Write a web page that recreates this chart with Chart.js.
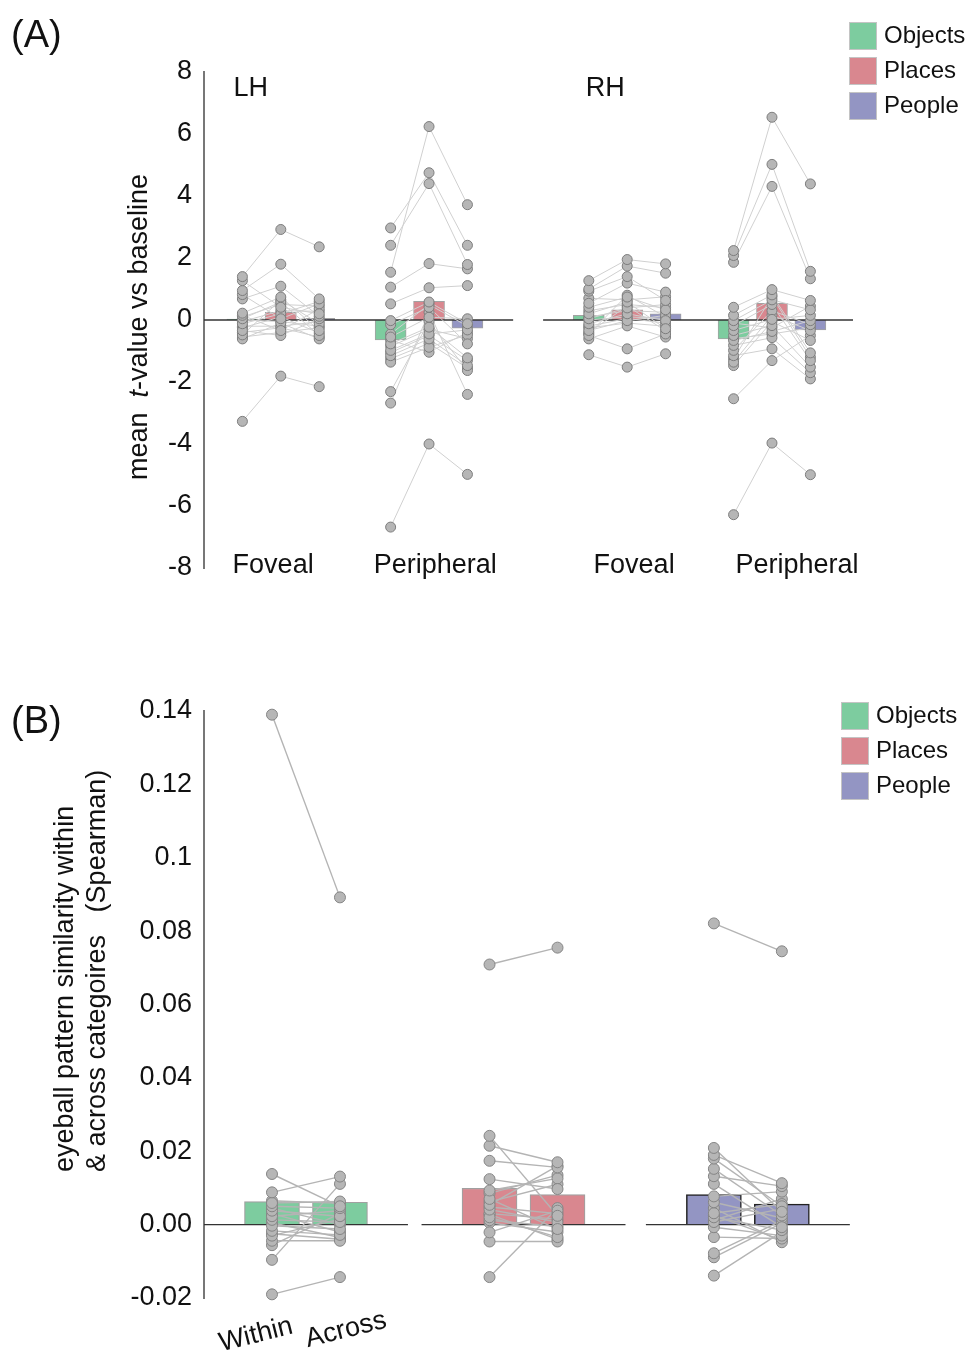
<!DOCTYPE html>
<html><head><meta charset="utf-8">
<script src="https://cdn.jsdelivr.net/npm/chart.js@4.4.1/dist/chart.umd.min.js"></script>
<style>
html,body{margin:0;padding:0;background:#fff;}
#wrap{position:relative;width:968px;height:1356px;overflow:hidden;}
#ca{position:absolute;left:0;top:0;width:968px;height:620px;}
#cb{position:absolute;left:0;top:620px;width:968px;height:736px;}
</style></head><body>
<div id="wrap"><canvas id="ca" width="968" height="620"></canvas><canvas id="cb" width="968" height="736"></canvas></div>
<script>
// ---------- DATA ----------
const conditions = ['Objects', 'Places', 'People'];
const hemispheres = ['LH', 'RH'];
const regionsA = ['Foveal', 'Peripheral', 'Foveal', 'Peripheral'];
const yTicksA = ['-8', '-6', '-4', '-2', '0', '2', '4', '6', '8'];

// bar heights (mean t-value) per group: LH-Foveal, LH-Peripheral, RH-Foveal, RH-Peripheral
const meanObjectsA = [0.03, -0.64, 0.15, -0.61];
const meanPlacesA  = [0.25, 0.60, 0.33, 0.54];
const meanPeopleA  = [0.05, -0.26, 0.20, -0.32];

// individual subjects (same index = same subject within a group)
const lhFovealObjects = [1.40, 1.27, 0.95, 0.82, 0.68, 0.22, 0.15, 0.04, -0.12, -0.34, -0.48, -0.61, -3.27, 0.10, 0.00, -0.05, -0.20, -0.25, -0.40, -0.55];
const lhFovealPlaces  = [2.92, 0.41, 1.80, 0.04, 1.09, 0.74, -0.34, 0.58, 0.20, -0.50, 0.65, -0.10, -1.81, 0.50, -0.05, 0.30, -0.20, 0.10, -0.25, -0.40];
const lhFovealPeople  = [2.36, 0.20, 0.68, 0.52, 0.12, -0.34, 0.36, -0.50, 0.60, 0.04, -0.12, -0.61, -2.15, 0.45, -0.20, 0.28, -0.05, -0.42, -0.55, -0.25];

const lhPeriphObjects = [1.54, 2.97, 2.41, 1.06, 0.52, -0.02, -0.15, -0.55, -0.77, -0.98, -1.15, -1.36, -2.31, -2.68, -6.68, -0.45, -0.65, -0.85, -1.05, -1.25];
const lhPeriphPlaces  = [6.24, 4.75, 4.40, 1.82, 1.04, 0.58, 0.41, 0.09, -0.23, -0.45, -0.61, -0.88, -0.05, 0.25, -4.00, 0.50, -1.04, -0.30, -0.50, -0.75];
const lhPeriphPeople  = [3.72, 2.41, 1.79, 1.65, 1.11, -0.12, -0.77, 0.04, -1.22, -0.32, -1.47, -0.48, -1.63, -2.40, -4.98, -0.20, -0.40, -0.60, -1.30, -1.55];

const rhFovealObjects = [1.27, 1.00, 0.93, 0.54, 0.41, 0.20, 0.04, -0.12, -0.34, -0.50, -0.61, -1.12, 0.70, 0.30, 0.10, 0.00, -0.20, -0.25, -0.40, -0.45];
const rhFovealPlaces  = [1.95, 1.74, 1.40, 1.19, 0.74, 0.58, 0.39, 0.20, -0.02, -0.93, -0.19, -1.52, 0.65, 0.50, 0.30, 0.10, 0.05, -0.10, 0.45, 0.80];
const rhFovealPeople  = [1.81, 1.51, 0.63, 0.90, 0.33, -0.28, 0.50, -0.02, 0.15, -0.45, -0.55, -1.09, 0.75, 0.40, 0.25, 0.05, -0.10, -0.20, -0.35, 0.10];

const rhPeriphObjects = [2.24, 2.08, 1.86, 0.41, 0.15, -0.02, -0.18, -0.34, -0.50, -0.66, -0.82, -0.98, -1.15, -1.36, -1.47, -2.54, -6.28, -0.10, -0.60, -1.25];
const rhPeriphPlaces  = [6.54, 5.02, 4.31, 0.98, 0.81, 0.65, 0.50, 0.02, -0.18, -0.37, -0.57, 0.30, -0.93, 0.15, -0.05, -1.31, -3.97, -0.25, -0.45, 0.75];
const rhPeriphPeople  = [4.39, 1.57, 1.33, 0.63, -1.06, 0.33, -1.31, 0.15, -1.52, -0.02, -1.70, -0.15, -1.90, -0.34, -0.66, -0.50, -4.99, 0.45, -0.25, -1.20];

// Panel B
const comparisonsB = ['Within', 'Across'];
const yTicksB = ['-0.02', '0.00', '0.02', '0.04', '0.06', '0.08', '0.1', '0.12', '0.14'];
const meanWithinB = [0.0063, 0.0099, 0.0082];
const meanAcrossB = [0.0061, 0.0082, 0.0056];
const objectsWithin = [0.139, 0.0138, 0.0088, 0.0059, 0.0050, 0.0038, 0.0023, 0.0013, -0.0003, -0.0017, -0.0030, -0.0044, -0.0056, -0.0096, -0.0190, 0.0065, 0.0045, 0.0030, 0.0005, -0.0025];
const objectsAcross = [0.0892, 0.0050, 0.0131, 0.0063, 0.0045, 0.0023, 0.0038, 0.0007, -0.0012, -0.0028, 0.0015, -0.0044, 0.0030, 0.0111, -0.0143, 0.0058, 0.0000, -0.0020, -0.0035, -0.0040];
const placesWithin  = [0.0709, 0.0242, 0.0215, 0.0174, 0.0124, 0.0093, 0.0070, 0.0054, 0.0041, 0.0020, -0.0021, -0.0046, -0.0143, 0.0085, 0.0062, 0.0048, 0.0030, 0.0012, 0.0005, 0.0028];
const placesAcross  = [0.0755, 0.0024, 0.0170, 0.0156, 0.0097, 0.0126, -0.0012, 0.0160, 0.0007, -0.0034, 0.0038, -0.0046, 0.0045, 0.0135, 0.0110, 0.0030, 0.0015, -0.0005, -0.0020, -0.0040];
const peopleWithin  = [0.0821, 0.0209, 0.0190, 0.0180, 0.0152, 0.0132, 0.0111, 0.0077, 0.0061, 0.0031, 0.0020, 0.0007, -0.0007, -0.0034, -0.0078, -0.0089, -0.0139, 0.0045, 0.0012, 0.0025];
const peopleAcross  = [0.0745, 0.0035, 0.0113, 0.0050, 0.0025, 0.0105, -0.0007, 0.0090, 0.0018, 0.0056, -0.0015, 0.0043, -0.0030, -0.0038, 0.0011, 0.0004, -0.0020, -0.0048, 0.0070, -0.0042];

// ---------- STYLE / LAYOUT ----------
const COLORS = ['#7dcc9f', '#d9878f', '#9395c3'];
const FONT = '"Liberation Sans", Arial, Helvetica, sans-serif';
const TXT = '#111';
Chart.defaults.font.family = FONT;
Chart.defaults.color = TXT;

const centerA = [2.0, 5.86, 11.02, 14.79];      // x-scale units
const labelXA = [1.80, 6.02, 11.2, 15.44];
const zeroSegA = [[0, 8.05], [8.83, 16.9]];
const centerB = [3.0, 9.4, 16.0];

function drawLegend(ctx, x0, y0, tx) {
  ctx.save();
  ctx.font = '24px ' + FONT;
  ctx.textBaseline = 'middle';
  ctx.textAlign = 'left';
  conditions.forEach((c, i) => {
    const y = y0 + i * 35;
    ctx.fillStyle = COLORS[i];
    ctx.fillRect(x0, y, 28, 28);
    ctx.strokeStyle = '#c4c4c4';
    ctx.lineWidth = 1;
    ctx.strokeRect(x0 + 0.5, y + 0.5, 27, 27);
    ctx.fillStyle = TXT;
    ctx.fillText(c, tx, y + 14);
  });
  ctx.restore();
}

// ---------- PANEL A ----------
const groupsA = [
  [lhFovealObjects, lhFovealPlaces, lhFovealPeople],
  [lhPeriphObjects, lhPeriphPlaces, lhPeriphPeople],
  [rhFovealObjects, rhFovealPlaces, rhFovealPeople],
  [rhPeriphObjects, rhPeriphPlaces, rhPeriphPeople]
];
const meansA = [meanObjectsA, meanPlacesA, meanPeopleA];
const dsA = [];
meansA.forEach((arr, c) => dsA.push({
  type: 'bar', label: conditions[c],
  data: arr.map((v, g) => ({ x: centerA[g] + c - 1, y: v })),
  backgroundColor: COLORS[c], borderColor: '#a2a2a2', borderWidth: 1,
  barThickness: 31, grouped: false, order: 3
}));
groupsA.forEach((grp, g) => {
  for (let s = 0; s < grp[0].length; s++) {
    const pts = grp.map((arr, c) => ({ x: centerA[g] + c - 1, y: arr[s] }));
    dsA.push({ type: 'line', data: pts, borderColor: '#d0d0d0', borderWidth: 1, pointRadius: 0, order: 2, fill: false, clip: false });
    dsA.push({ type: 'line', data: pts, showLine: false, pointRadius: 5, pointBackgroundColor: '#b6b6b6', pointBorderColor: '#7d7d7d', pointBorderWidth: 1, order: 1, clip: false });
  }
});

const decorA = {
  id: 'decorA',
  afterDatasetDraw(chart, args) {
    if (args.meta.type === 'bar' && args.index === 0) {
      const { ctx, scales: { x, y } } = chart;
      ctx.save();
      ctx.strokeStyle = '#333'; ctx.lineWidth = 1.5;
      const y0 = y.getPixelForValue(0);
      zeroSegA.forEach(([a, b]) => {
        ctx.beginPath(); ctx.moveTo(x.getPixelForValue(a), y0); ctx.lineTo(x.getPixelForValue(b), y0); ctx.stroke();
      });
      ctx.restore();
    }
  },
  afterDraw(chart) {
    const { ctx, scales: { x } } = chart;
    ctx.save();
    ctx.fillStyle = TXT;
    ctx.textBaseline = 'alphabetic';
    ctx.font = '38px ' + FONT; ctx.textAlign = 'left';
    ctx.fillText('(A)', 11, 47);
    ctx.font = '27px ' + FONT;
    ctx.fillText(hemispheres[0], x.getPixelForValue(centerA[0] - 1) - 9, 96);
    ctx.fillText(hemispheres[1], x.getPixelForValue(centerA[2] - 1) - 3, 96);
    ctx.textAlign = 'center';
    regionsA.forEach((r, i) => ctx.fillText(r, x.getPixelForValue(labelXA[i]), 573));
    // y title with italic t
    ctx.translate(140, 327); ctx.rotate(-Math.PI / 2);
    const parts = [['mean  ', 'normal'], ['t', 'italic'], ['-value vs baseline', 'normal']];
    let total = 0;
    parts.forEach(p => { ctx.font = p[1] + ' 27px ' + FONT; total += ctx.measureText(p[0]).width; });
    let cx = -total / 2;
    ctx.textAlign = 'left'; ctx.textBaseline = 'middle';
    parts.forEach(p => { ctx.font = p[1] + ' 27px ' + FONT; ctx.fillText(p[0], cx, 0); cx += ctx.measureText(p[0]).width; });
    ctx.restore();
    drawLegend(ctx, 849, 22, 884);
  }
};

new Chart(document.getElementById('ca'), {
  type: 'bar',
  data: { datasets: dsA },
  options: {
    responsive: false, animation: false, devicePixelRatio: 1, events: [],
    layout: { padding: { left: 0, top: 72, right: 110, bottom: 52 } },
    plugins: { legend: { display: false }, tooltip: { enabled: false } },
    scales: {
      x: { type: 'linear', min: 0, max: 17.03, display: false, offset: false },
      y: {
        min: -8, max: 8,
        ticks: { stepSize: 2, padding: 12, color: TXT, font: { size: 27 }, callback: (v, i) => yTicksA[i] },
        grid: { display: false, drawTicks: false },
        border: { display: true, color: '#777', width: 2 },
        afterFit: s => { s.width = 204; }
      }
    }
  },
  plugins: [decorA]
});

// ---------- PANEL B ----------
const groupsB = [[objectsWithin, objectsAcross], [placesWithin, placesAcross], [peopleWithin, peopleAcross]];
const meansB = [meanWithinB, meanAcrossB];
const dsB = [];
[0, 1, 2].forEach(g => {
  dsB.push({
    type: 'bar', label: conditions[g],
    data: meansB.map((arr, k) => ({ x: centerB[g] + (k === 0 ? -1 : 1), y: arr[g] })),
    backgroundColor: COLORS[g], borderColor: g === 2 ? '#222' : '#a0a0a0', borderWidth: g === 2 ? 1.5 : 1.2,
    barThickness: 55, grouped: false, order: 3
  });
});
groupsB.forEach((grp, g) => {
  for (let s = 0; s < grp[0].length; s++) {
    const pts = grp.map((arr, k) => ({ x: centerB[g] + (k === 0 ? -1 : 1), y: arr[s] }));
    dsB.push({ type: 'line', data: pts, borderColor: '#b4b4b4', borderWidth: 1.4, pointRadius: 0, order: 2, fill: false, clip: false });
    dsB.push({ type: 'line', data: pts, showLine: false, pointRadius: 5.5, pointBackgroundColor: '#b6b6b6', pointBorderColor: '#858585', pointBorderWidth: 1, order: 1, clip: false });
  }
});

const decorB = {
  id: 'decorB',
  afterDatasetDraw(chart, args) {
    if (args.meta.type === 'bar' && args.index === 0) {
      const { ctx, scales: { x, y } } = chart;
      ctx.save();
      ctx.strokeStyle = '#333'; ctx.lineWidth = 1.3;
      const y0 = y.getPixelForValue(0);
      centerB.forEach(c => {
        ctx.beginPath(); ctx.moveTo(x.getPixelForValue(c - 3), y0); ctx.lineTo(x.getPixelForValue(c + 3), y0); ctx.stroke();
      });
      ctx.restore();
    }
  },
  afterDraw(chart) {
    const { ctx, scales: { x } } = chart;
    ctx.save();
    ctx.fillStyle = TXT;
    ctx.font = '38px ' + FONT; ctx.textAlign = 'left'; ctx.textBaseline = 'alphabetic';
    ctx.fillText('(B)', 11, 113);
    // two-line y title
    ctx.save();
    ctx.font = '27px ' + FONT; ctx.textBaseline = 'middle'; ctx.textAlign = 'left';
    ctx.translate(66, 552); ctx.rotate(-Math.PI / 2);
    ctx.fillText('eyeball pattern similarity within', 0, 0);
    ctx.fillText('& across categoires   (Spearman)', 0, 32);
    ctx.restore();
    // Within / Across
    ctx.font = '27px ' + FONT; ctx.textAlign = 'center'; ctx.textBaseline = 'middle';
    const lx = [x.getPixelForValue(centerB[0] - 1) - 16, x.getPixelForValue(centerB[0] + 1) + 6];
    const ly = [715, 710];
    comparisonsB.forEach((t, i) => {
      ctx.save(); ctx.translate(lx[i], ly[i]); ctx.rotate(-14 * Math.PI / 180); ctx.fillText(t, 0, 0); ctx.restore();
    });
    ctx.restore();
    drawLegend(ctx, 841, 82, 876);
  }
};

new Chart(document.getElementById('cb'), {
  type: 'bar',
  data: { datasets: dsB },
  options: {
    responsive: false, animation: false, devicePixelRatio: 1, events: [],
    layout: { padding: { left: 0, top: 91, right: 110, bottom: 58 } },
    plugins: { legend: { display: false }, tooltip: { enabled: false } },
    scales: {
      x: { type: 'linear', min: 0, max: 19.24, display: false, offset: false },
      y: {
        min: -0.02, max: 0.14,
        ticks: { stepSize: 0.02, padding: 12, color: TXT, font: { size: 27 }, callback: (v, i) => yTicksB[i] },
        grid: { display: false, drawTicks: false },
        border: { display: true, color: '#777', width: 2 },
        afterFit: s => { s.width = 204; }
      }
    }
  },
  plugins: [decorB]
});
</script></body></html>
